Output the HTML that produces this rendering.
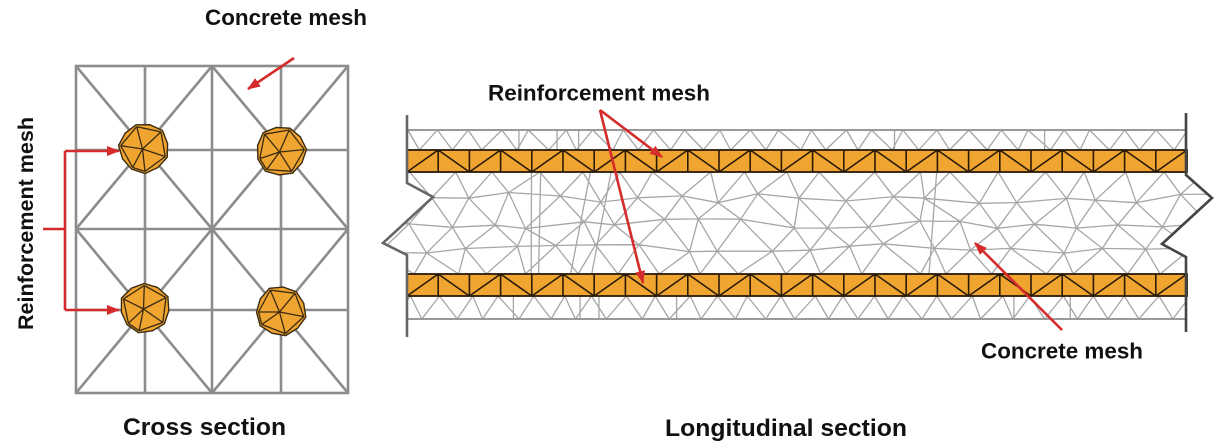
<!DOCTYPE html>
<html><head><meta charset="utf-8">
<style>
html,body{margin:0;padding:0;background:#fff;}
svg{display:block;}
text{font-family:"Liberation Sans",Arial,sans-serif;font-weight:bold;fill:#111;}
</style></head><body>
<svg id="s" width="1220" height="447" viewBox="0 0 1220 447" xmlns="http://www.w3.org/2000/svg">
<defs>
<clipPath id="mid"><polygon points="407,172 1186,172 1186,175 1212,198 1162,244 1186,257 1186,274 407,274 407,255 383,243 433,197 407,183"/></clipPath>
<clipPath id="band"><rect x="407" y="125" width="779" height="200"/></clipPath>
<marker id="ah" markerWidth="13" markerHeight="10" refX="12" refY="5" orient="auto" markerUnits="userSpaceOnUse"><path d="M0,0 L13,5 L0,10 z" fill="#d62b2b"/></marker>
</defs>

<!-- Cross section grid -->
<g stroke="#8c8c8c" stroke-width="2.6" fill="none">
<rect x="76" y="66" width="272" height="327"/>
<line x1="145" y1="66" x2="145" y2="393"/>
<line x1="212" y1="66" x2="212" y2="393"/>
<line x1="281" y1="66" x2="281" y2="393"/>
<line x1="76" y1="150" x2="348" y2="150"/>
<line x1="76" y1="229" x2="348" y2="229"/>
<line x1="76" y1="310" x2="348" y2="310"/>
<line x1="76" y1="66" x2="212" y2="229"/><line x1="212" y1="66" x2="76" y2="229"/>
<line x1="212" y1="66" x2="348" y2="229"/><line x1="348" y1="66" x2="212" y2="229"/>
<line x1="76" y1="229" x2="212" y2="393"/><line x1="212" y1="229" x2="76" y2="393"/>
<line x1="212" y1="229" x2="348" y2="393"/><line x1="348" y1="229" x2="212" y2="393"/>
</g>
<g id="rebars"></g>

<!-- Longitudinal section -->
<g id="meshStrips" stroke="#a6a6a6" stroke-width="1.3" fill="none" clip-path="url(#band)"></g>
<g id="meshMid" stroke="#a6a6a6" stroke-width="1.3" fill="none" clip-path="url(#mid)"></g>
<line x1="407" y1="130" x2="1186" y2="130" stroke="#9a9a9a" stroke-width="2"/>
<line x1="407" y1="319" x2="1186" y2="319" stroke="#9a9a9a" stroke-width="2"/>
<g id="bars"></g>
<path d="M407,115 V183 L433,197 L383,243 L407,255 V337" fill="none" stroke="#666" stroke-width="2.6"/>
<path d="M1186,113 V175 L1212,198 L1162,244 L1186,257 V332" fill="none" stroke="#444" stroke-width="2.6"/>

<!-- Red arrows -->
<g stroke="#d62b2b" stroke-width="2.6" fill="none">
<path d="M43,229 H65"/>
<path d="M65,151 V310"/>
<line x1="65" y1="151" x2="119" y2="151" marker-end="url(#ah)"/>
<line x1="65" y1="310" x2="119" y2="310" marker-end="url(#ah)"/>
<line x1="294" y1="58" x2="248" y2="89" marker-end="url(#ah)"/>
<line x1="600" y1="110" x2="662" y2="157" marker-end="url(#ah)"/>
<line x1="600" y1="110" x2="643" y2="283" marker-end="url(#ah)"/>
<line x1="1062" y1="330" x2="975" y2="243" marker-end="url(#ah)"/>
</g>

<!-- Labels -->
<text x="205" y="25" font-size="22" textLength="162" lengthAdjust="spacingAndGlyphs">Concrete mesh</text>
<text x="488" y="100.5" font-size="22" textLength="222" lengthAdjust="spacingAndGlyphs">Reinforcement mesh</text>
<text x="981" y="358.5" font-size="22" textLength="162" lengthAdjust="spacingAndGlyphs">Concrete mesh</text>
<text x="123" y="435" font-size="24.5" textLength="163" lengthAdjust="spacingAndGlyphs">Cross section</text>
<text x="665" y="436" font-size="24.5" textLength="242" lengthAdjust="spacingAndGlyphs">Longitudinal section</text>
<text transform="translate(33,223.5) rotate(-90)" text-anchor="middle" font-size="21.5" textLength="213" lengthAdjust="spacingAndGlyphs">Reinforcement mesh</text>
</svg>
<script>
(function(){
const NS="http://www.w3.org/2000/svg";
function el(p,tag,a){const e=document.createElementNS(NS,tag);for(const k in a)e.setAttribute(k,a[k]);p.appendChild(e);return e;}
let seed=987654;
function rnd(){seed|=0;seed=seed+0x6D2B79F5|0;let t=Math.imul(seed^seed>>>15,1|seed);t=t+Math.imul(t^t>>>7,61|t)^t;return((t^t>>>14)>>>0)/4294967296;}
function f(v){return v.toFixed(1);}

/* strips */
let d='';
function L(x1,y1,x2,y2){d+='M'+f(x1)+','+f(y1)+'L'+f(x2)+','+f(y2);}
function strip(ya,yb){
  const w=31.2;let tops=[],bots=[];
  for(let k=-1;k<27;k++){tops.push(407+k*w+(rnd()-0.5)*8);bots.push(407+(k+0.5)*w+(rnd()-0.5)*8);}
  for(let k=0;k<tops.length;k++){
    L(tops[k],ya,bots[k],yb);
    if(k+1<tops.length)L(bots[k],yb,tops[k+1],ya);
    if(rnd()<0.12){const x=tops[k]+rnd()*w;L(x,ya,x,yb);}
  }
}
strip(130,150);strip(296,319);
el(document.getElementById('meshStrips'),'path',{d:d});

/* middle mesh */
d='';
const rows=[172,197.5,223,248.5,274],s=42,x0=366;
let g=[];
for(let r=0;r<rows.length;r++){
  let row=[];const off=(r%2)*s/2;
  for(let i=0;x0+off+i*s<1240;i++){
    const jx=(rnd()-0.5)*18,jy=(r==0||r==rows.length-1)?0:(rnd()-0.5)*12;
    row.push([x0+off+i*s+jx,rows[r]+jy]);
  }
  g.push(row);
}
for(let r=0;r<g.length;r++){
  const row=g[r];
  if(r>0&&r<g.length-1)for(let i=0;i+1<row.length;i++)L(row[i][0],row[i][1],row[i+1][0],row[i+1][1]);
  if(r+1<g.length){
    const nx=g[r+1];
    for(let i=0;i<row.length;i++){
      let a,b;
      if(r%2==0){a=i-1;b=i;}else{a=i;b=i+1;}
      if(a>=0&&a<nx.length)L(row[i][0],row[i][1],nx[a][0],nx[a][1]);
      if(b>=0&&b<nx.length)L(row[i][0],row[i][1],nx[b][0],nx[b][1]);
    }
  }
}
for(let k=0;k<5;k++){
  const x=420+rnd()*740;L(x,172,x+(rnd()-0.5)*40,274);
}
el(document.getElementById('meshMid'),'path',{d:d});

/* bars */
const bars=document.getElementById('bars');
function bar(y1,y2){
  const xA=407,xB=1187,n=25,w=(xB-xA)/n;
  el(bars,'rect',{x:xA,y:y1,width:xB-xA,height:y2-y1,fill:'#efa52f',stroke:'none'});
  let p='';
  for(let i=0;i<n;i++){
    const x=xA+i*w;
    if(i>0)p+='M'+f(x)+','+y1+'V'+y2;
    if(i%2==0)p+='M'+f(x)+','+y2+'L'+f(x+w)+','+y1;
    else p+='M'+f(x)+','+y1+'L'+f(x+w)+','+y2;
  }
  el(bars,'path',{d:p,stroke:'#2a1a08','stroke-width':1.6,fill:'none'});
  el(bars,'rect',{x:xA,y:y1,width:xB-xA,height:y2-y1,fill:'none',stroke:'#2a1a08','stroke-width':1.8});
}
bar(150,172);bar(274,296);

/* rebars */
const rb=document.getElementById('rebars');
function rebar(cx,cy,rot){
  const n=11;let pts=[];
  const rr=[24.5,24,25.5,24,25,24,25.5,24.5,24,25.5,24];
  for(let i=0;i<n;i++){const a=rot+i*2*Math.PI/n;pts.push([cx+rr[i]*Math.cos(a),cy+rr[i]*Math.sin(a)]);}
  el(rb,'polygon',{points:pts.map(p=>f(p[0])+','+f(p[1])).join(' '),fill:'#efa52f',stroke:'#3a2a10','stroke-width':1.4});
  const idx=[0,2,4,6,7,9];
  const c=[cx-1.5,cy+1];
  let p='';
  const inner=idx.map(i=>[cx+(pts[i][0]-cx)*0.92,cy+(pts[i][1]-cy)*0.92]);
  for(let k=0;k<inner.length;k++){
    p+='M'+f(c[0])+','+f(c[1])+'L'+f(inner[k][0])+','+f(inner[k][1]);
    const q=inner[(k+1)%inner.length];
    p+='M'+f(inner[k][0])+','+f(inner[k][1])+'L'+f(q[0])+','+f(q[1]);
  }
  el(rb,'path',{d:p,stroke:'#3a2a10','stroke-width':1.3,fill:'none'});
}
rebar(144,148,-1.9);
rebar(281,151,-1.2);
rebar(145,308,-1.6);
rebar(281,311,-0.9);
})();
</script>
</body></html>
